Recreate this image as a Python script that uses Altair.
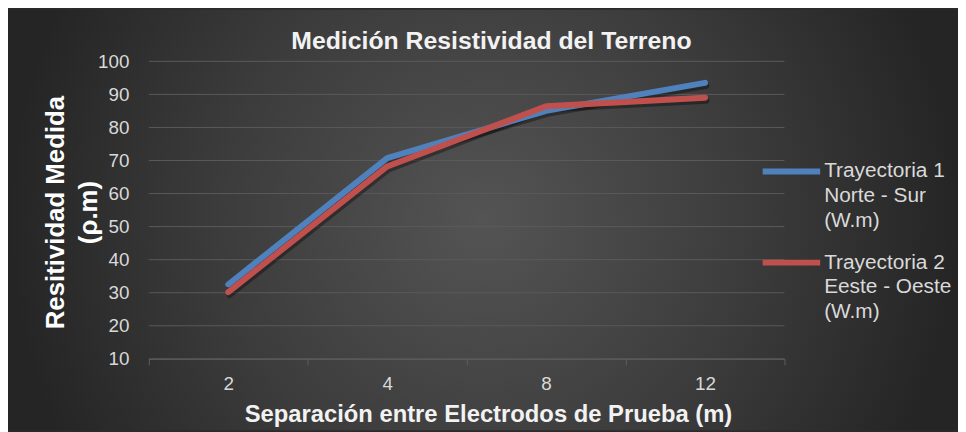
import altair as alt
import pandas as pd

# ---- data ----
separacion = ["2", "4", "8", "12"]
trayectoria_1 = [32.5, 70.7, 85.0, 93.5]
trayectoria_2 = [30.2, 68.2, 86.4, 89.0]
serie_1_lineas = ["Trayectoria 1", "Norte - Sur", "(W.m)"]
serie_2_lineas = ["Trayectoria 2", "Eeste - Oeste", "(W.m)"]
y_ticks = [10, 20, 30, 40, 50, 60, 70, 80, 90, 100]
colores = ["#4F81BD", "#C0504D"]

FONT = "Liberation Sans"
W, H = 641, 300
PAD = {"left": 142, "top": 52, "right": 175, "bottom": 72}

n1 = "\n".join(serie_1_lineas)
n2 = "\n".join(serie_2_lineas)

df = pd.DataFrame({
    "sep": separacion * 2,
    "valor": trayectoria_1 + trayectoria_2,
    "serie": [n1] * len(separacion) + [n2] * len(separacion),
})
grid_df = pd.DataFrame({"valor": y_ticks})
bg_df = pd.DataFrame({"k": [0]})

x_enc = alt.X(
    "sep:O",
    sort=separacion,
    scale=alt.Scale(type="band", paddingInner=0, paddingOuter=0, domain=separacion),
    axis=alt.Axis(
        title="Separación entre Electrodos de Prueba (m)",
        titleFont=FONT, titleFontSize=24, titleFontWeight="bold", titleColor="#f2f2f2",
        titleX=342, titleY=56, titleBaseline="middle", titleAlign="center",
        labelFont=FONT, labelFontSize=19, labelColor="#d9d9d9", labelAngle=0,
        labelPadding=10, tickSize=6, tickColor="#5e5e5e", domainColor="#5e5e5e",
        tickBand="extent", grid=False, zindex=1,
    ),
)
y_enc = alt.Y(
    "valor:Q",
    scale=alt.Scale(domain=[10, 100], nice=False, zero=False),
    axis=alt.Axis(
        values=y_ticks,
        labelOverlap=False,
        labelBound=False,
        title=["Resitividad Medida", "(ρ.m)"],
        titleFont=FONT, titleFontSize=26, titleFontWeight="bold", titleColor="#ffffff",
        titleLineHeight=33, titleX=-94, titleY=152, titleAngle=270,
        titleBaseline="middle", titleAlign="center",
        labelFont=FONT, labelFontSize=19, labelColor="#d9d9d9", labelPadding=20,
        ticks=False, domain=False, grid=False, zindex=1,
    ),
)

gradient = alt.RadialGradient(
    gradient="radial",
    x1=0.5, y1=0.5, r1=0.0,
    x2=0.5, y2=0.5, r2=0.5,
    stops=[
        alt.GradientStop(color="#545454", offset=0),
        alt.GradientStop(color="#3c3c3c", offset=0.55),
        alt.GradientStop(color="#252525", offset=1),
    ],
)

background = alt.Chart(bg_df).mark_rect(fill=gradient, strokeWidth=0).encode(
    x=alt.value(-PAD["left"]),
    x2=alt.value(W + PAD["right"]),
    y=alt.value(-PAD["top"]),
    y2=alt.value(H + PAD["bottom"]),
)

grid = alt.Chart(grid_df).mark_rule(color="#5a5a5a", strokeWidth=1).encode(
    y=y_enc
)

base = alt.Chart(df).encode(x=x_enc, y=y_enc)

shadow = base.mark_line(
    color="#000000", opacity=0.35, strokeWidth=6, strokeCap="round",
    strokeJoin="round", xOffset=1.5, yOffset=3,
).encode(detail="serie:N")

lines = base.mark_line(strokeWidth=6, strokeCap="round", strokeJoin="round").encode(
    color=alt.Color(
        "serie:N",
        sort=[n1, n2],
        scale=alt.Scale(domain=[n1, n2], range=colores),
        legend=alt.Legend(
            title=None,
            orient="none",
            legendX=616,
            legendY=79,
            direction="vertical",
            labelExpr="split(datum.label, '\\n')",
            labelFont=FONT, labelFontSize=21, labelColor="#d9d9d9",
            labelBaseline="middle", labelLimit=400, labelOffset=1,
            symbolType="M-1,0L1,0",
            symbolSize=3364, symbolStrokeWidth=6,
            rowPadding=0, padding=0, zindex=1,
        ),
    )
)

chart = alt.layer(background, grid, shadow, lines).properties(
    width=W,
    height=H,
    padding=PAD,
    autosize=alt.AutoSizeParams(type="none"),
    background="#2b2b2b",
    title=alt.TitleParams(
        text="Medición Resistividad del Terreno",
        font=FONT, fontSize=25, fontWeight="bold", color="#f2f2f2",
        anchor="middle", frame="group", baseline="alphabetic",
        dx=25, dy=65, offset=0, zindex=1,
    ),
).configure(
    style={"guide-label": {"lineHeight": 25}},
).configure_view(stroke=None)

chart.save("out.html", embed_options={"renderer": "svg", "actions": False})
